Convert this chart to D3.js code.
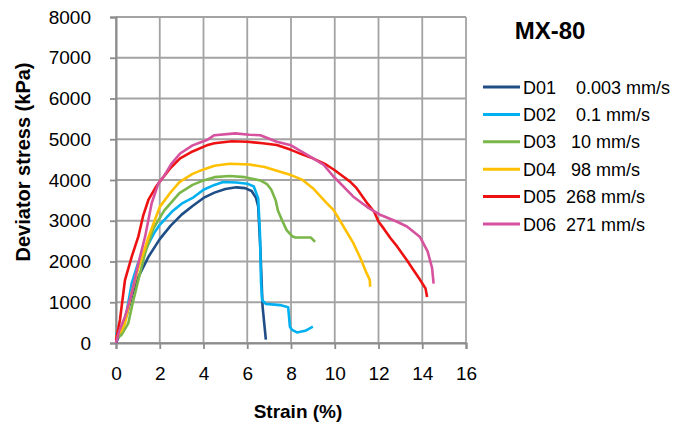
<!DOCTYPE html>
<html>
<head>
<meta charset="utf-8">
<script src="https://cdn.jsdelivr.net/npm/d3@7"></script>
<style>
  body { margin: 0; background: #fff; }
  text { font-family: "Liberation Sans", Arial, sans-serif; fill: #000; }
</style>
</head>
<body>
<script>
// data: [strain %, deviator stress kPa]
var d01 = [[0,0],[0.25,300],[0.5,700],[0.75,1200],[1.0,1600],[1.5,2130],[2.0,2550],[2.5,2880],[3.0,3150],[3.5,3360],[4.0,3560],[4.5,3690],[5.0,3780],[5.5,3820],[5.9,3800],[6.2,3730],[6.4,3560],[6.5,3350],[6.6,2300],[6.7,900],[6.85,80]];
var d02 = [[0,250],[0.1,150],[0.26,240],[0.5,800],[0.72,1470],[1.0,1950],[1.33,2280],[1.78,2730],[2.0,2900],[2.55,3220],[3.0,3420],[3.5,3560],[4.0,3760],[4.5,3880],[4.9,3950],[5.5,3940],[6.0,3910],[6.3,3840],[6.5,3550],[6.58,2700],[6.63,1500],[6.68,1050],[6.85,960],[7.5,930],[7.87,880],[7.95,400],[8.05,320],[8.27,260],[8.65,300],[9.0,400]];
var d03 = [[0,100],[0.25,200],[0.56,480],[0.75,950],[1.0,1500],[1.33,2200],[1.7,2800],[2.2,3250],[2.9,3680],[3.5,3880],[4.0,3990],[4.5,4070],[5.2,4100],[5.9,4070],[6.6,3990],[6.9,3900],[7.1,3760],[7.3,3500],[7.4,3250],[7.6,3000],[7.8,2770],[8.05,2620],[8.2,2590],[8.9,2590],[9.1,2480]];
var d04 = [[0,150],[0.25,300],[0.41,480],[0.7,1200],[1.0,1800],[1.5,2620],[2.0,3340],[2.5,3700],[2.9,3950],[3.5,4150],[4.0,4260],[4.5,4350],[5.2,4400],[6.1,4380],[6.8,4320],[7.2,4250],[8.0,4120],[8.5,4010],[9.0,3800],[9.6,3450],[9.95,3260],[10.4,2860],[10.85,2450],[11.2,2050],[11.45,1720],[11.6,1550],[11.62,1380]];
var d05 = [[0,70],[0.18,565],[0.41,1545],[0.72,2120],[1.02,2610],[1.25,3140],[1.48,3510],[1.86,3860],[2.0,3960],[2.5,4300],[2.93,4530],[3.5,4700],[4.15,4850],[4.5,4900],[5.3,4950],[6.0,4940],[6.7,4900],[7.35,4860],[8.0,4740],[8.5,4630],[9.0,4530],[9.6,4380],[10.0,4240],[10.4,4080],[10.7,3960],[11.0,3800],[11.5,3420],[11.8,3220],[12.0,2980],[12.25,2800],[12.55,2570],[12.85,2370],[13.3,2030],[13.55,1830],[13.9,1550],[14.1,1380],[14.15,1340],[14.22,1130]];
var d06 = [[0,0],[0.15,300],[0.41,645],[0.72,1220],[1.02,1950],[1.33,2610],[1.63,3430],[1.94,3920],[2.2,4100],[2.55,4410],[2.93,4650],[3.5,4850],[4.15,4980],[4.5,5100],[5.45,5145],[6.1,5110],[6.6,5100],[7.35,4940],[8.0,4850],[8.9,4570],[9.5,4370],[9.95,4080],[10.25,3920],[10.85,3590],[11.5,3330],[12.1,3140],[12.85,2975],[13.3,2860],[13.9,2600],[14.25,2240],[14.45,1840],[14.52,1460]];

var seriesNames = ["D01    0.003 mm/s", "D02    0.1 mm/s", "D03   10 mm/s", "D04   98 mm/s", "D05  268 mm/s", "D06  271 mm/s"];
var seriesColors = ["#1f4e86", "#00b0f0", "#7ab648", "#ffc000", "#ee1111", "#d6529e"];
var seriesData = [d01, d02, d03, d04, d05, d06];
var xTicks = [0, 2, 4, 6, 8, 10, 12, 14, 16];
var yTicks = [0, 1000, 2000, 3000, 4000, 5000, 6000, 7000, 8000];

var margin = {left: 116, right: 224, top: 17, bottom: 82},
    width = 690 - margin.left - margin.right,
    height = 425 - margin.top - margin.bottom;

var svg = d3.select("body").append("svg")
    .attr("width", 690)
    .attr("height", 425);

var g = svg.append("g")
    .attr("transform", "translate(" + margin.left + "," + margin.top + ")");

var x = d3.scaleLinear().domain([0, 16]).range([0, width]);
var y = d3.scaleLinear().domain([0, 8000]).range([height, 0]);

// grid
g.selectAll(".vgrid").data(xTicks).enter().append("line")
    .attr("x1", function(d) { return x(d); }).attr("x2", function(d) { return x(d); })
    .attr("y1", 0).attr("y2", height)
    .attr("stroke", "#a3a3a3").attr("stroke-width", 1.8);
g.selectAll(".hgrid").data(yTicks).enter().append("line")
    .attr("y1", function(d) { return y(d); }).attr("y2", function(d) { return y(d); })
    .attr("x1", 0).attr("x2", width)
    .attr("stroke", "#a3a3a3").attr("stroke-width", 1.8);

// axes
var xAxis = g.append("g").attr("transform", "translate(0," + height + ")")
    .call(d3.axisBottom(x).tickValues(xTicks).tickSize(6).tickPadding(18).tickFormat(d3.format("d")));
var yAxis = g.append("g")
    .call(d3.axisLeft(y).tickValues(yTicks).tickSize(6).tickPadding(19).tickFormat(d3.format("d")));
[xAxis, yAxis].forEach(function(a) {
    a.select(".domain").attr("stroke", "#8c8c8c").attr("stroke-width", 2);
    a.selectAll(".tick line").attr("stroke", "#8c8c8c").attr("stroke-width", 1.8);
    a.selectAll(".tick text").attr("font-size", 19).attr("font-family", "Liberation Sans, Arial, sans-serif").attr("fill", "#000");
});

// lines
var line = d3.line()
    .x(function(d) { return x(d[0]); })
    .y(function(d) { return y(d[1]); });

g.selectAll(".series").data(seriesData).enter().append("path")
    .attr("d", line)
    .attr("fill", "none")
    .attr("stroke", function(d, i) { return seriesColors[i]; })
    .attr("stroke-width", 2.6)
    .attr("stroke-linejoin", "round");

// axis titles
svg.append("text")
    .attr("x", margin.left + width / 2 + 7).attr("y", 418)
    .attr("text-anchor", "middle")
    .attr("font-size", 19).attr("font-weight", "bold")
    .text("Strain (%)");
svg.append("text")
    .attr("transform", "translate(30,162) rotate(-90)")
    .attr("text-anchor", "middle")
    .attr("font-size", 20).attr("font-weight", "bold")
    .text("Deviator stress (kPa)");

// legend
svg.append("text")
    .attr("x", 550).attr("y", 39)
    .attr("text-anchor", "middle")
    .attr("font-size", 24).attr("font-weight", "bold")
    .text("MX-80");

var legend = svg.selectAll(".legend").data(seriesNames).enter().append("g")
    .attr("transform", function(d, i) { return "translate(483," + (87 + i * 27.4) + ")"; });
legend.append("line")
    .attr("x1", 0).attr("x2", 37).attr("y1", 0).attr("y2", 0)
    .attr("stroke", function(d, i) { return seriesColors[i]; })
    .attr("stroke-width", 3);
legend.append("text")
    .attr("x", 40).attr("y", 6.5)
    .attr("font-size", 18)
    .style("white-space", "pre")
    .text(function(d) { return d; });
</script>
</body>
</html>
